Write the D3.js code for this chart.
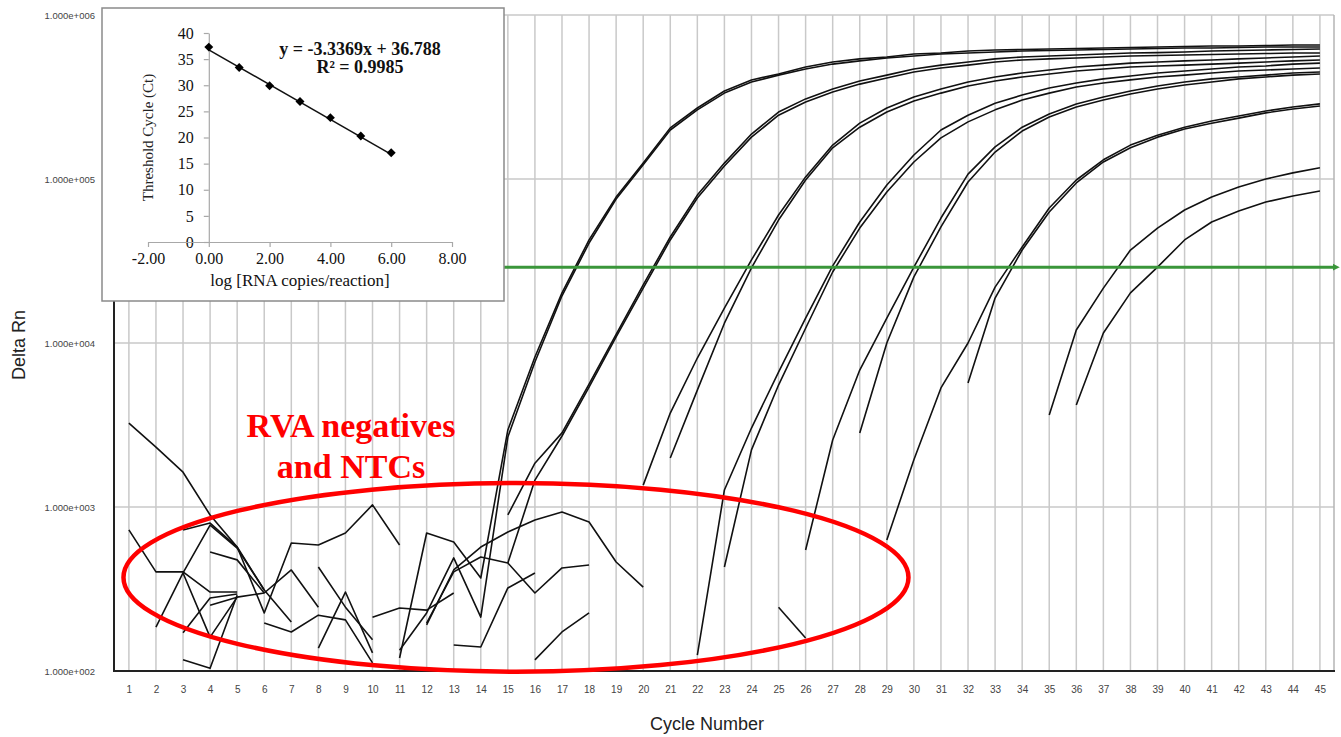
<!DOCTYPE html>
<html>
<head>
<meta charset="utf-8">
<script src="https://cdn.jsdelivr.net/npm/d3@7"></script>
<style>
  body { margin: 0; background: #fff; }
  svg { display: block; }
</style>
</head>
<body>
<svg id="chart" width="1341" height="737"></svg>
<script>
  // ---- main plot data (delta Rn per cycle, "from" = first cycle drawn) ----
const cycles = d3.range(1, 46);
const decades = [1e2, 1e3, 1e4, 1e5, 1e6];
const threshold = 29000;

const runA1 = {from: 11, rn: [120, 694, 612, 369, 2950, 8220, 20200, 42500, 77600, 125000, 205000, 271000, 344000, 402000, 437000, 482000, 517000, 540000, 555000, 578000, 586000, 603000, 612000, 616000, 621000, 625000, 629000, 634000, 638000, 642000, 647000, 647000, 651000, 656000, 656000]};
const runA2 = {from: 11, rn: [134, 226, 489, 213, 2670, 7660, 19400, 40700, 75500, 122000, 199000, 264000, 334000, 390000, 430000, 469000, 502000, 525000, 547000, 562000, 578000, 586000, 595000, 603000, 608000, 612000, 616000, 621000, 625000, 629000, 629000, 634000, 638000, 638000, 638000]};
const runB1 = {from: 15, rn: [894, 1850, 2830, 5620, 11300, 22600, 44300, 79800, 125000, 188000, 256000, 308000, 354000, 396000, 430000, 469000, 495000, 517000, 540000, 555000, 562000, 570000, 578000, 586000, 590000, 595000, 603000, 608000, 612000, 616000, 621000]};
const runB2 = {from: 15, rn: [456, 1460, 2710, 5390, 10900, 21600, 42500, 76600, 120000, 180000, 245000, 295000, 339000, 379000, 413000, 449000, 475000, 495000, 517000, 532000, 540000, 547000, 555000, 562000, 566000, 570000, 574000, 578000, 582000, 586000, 586000]};
const runC1 = {from: 20, rn: [1360, 3740, 8100, 16300, 32100, 60300, 103000, 161000, 219000, 271000, 316000, 354000, 390000, 419000, 443000, 462000, 482000, 495000, 509000, 517000, 525000, 532000, 540000, 547000, 555000, 562000]};
const runC2 = {from: 21, rn: [1990, 5160, 13200, 28700, 56200, 98600, 155000, 207000, 256000, 299000, 334000, 369000, 396000, 419000, 437000, 456000, 469000, 482000, 489000, 495000, 502000, 509000, 517000, 525000, 532000]};
const runD1 = {from: 22, rn: [125, 1270, 3030, 6650, 14200, 29500, 54700, 91900, 140000, 199000, 245000, 290000, 325000, 359000, 385000, 408000, 425000, 443000, 456000, 469000, 482000, 489000, 502000, 509000]};
const runD2 = {from: 23, rn: [431, 2230, 5540, 12300, 27100, 50200, 83400, 127000, 178000, 223000, 264000, 303000, 334000, 364000, 385000, 402000, 419000, 430000, 443000, 456000, 462000, 469000, 475000]};
const runE1 = {from: 26, rn: [547, 2560, 6840, 14200, 29000, 57800, 107000, 157000, 207000, 249000, 287000, 316000, 344000, 369000, 390000, 408000, 419000, 430000, 443000, 449000]};
const runE2 = {from: 28, rn: [2830, 10000, 25300, 51000, 95900, 146000, 196000, 239000, 275000, 303000, 330000, 354000, 374000, 390000, 408000, 419000, 430000, 437000]};
const runF1 = {from: 29, rn: [630, 1940, 5320, 10000, 21900, 38500, 66600, 98600, 131000, 161000, 185000, 207000, 226000, 242000, 260000, 275000, 287000]};
const runF2 = {from: 32, rn: [5700, 18800, 36900, 62900, 94600, 127000, 155000, 180000, 202000, 219000, 235000, 253000, 267000, 279000]};
const runG1 = {from: 35, rn: [3640, 12000, 21600, 36900, 50200, 64700, 77600, 89400, 100000, 109000, 117000]};
const runG2 = {from: 36, rn: [4190, 11500, 20200, 29000, 42500, 54700, 63800, 72400, 78800, 84500]};

  // negatives and NTCs (only the parts above 1e2 are drawn)
const neg1 = {from: 1, rn: [3250, 2320, 1630, 894, 570, 312, 199]};
const neg2 = {from: 1, rn: [725, 402, 402, 303, 303]};
const neg3 = {from: 3, rn: [725, 798, 570, 226, 603, 586, 694, 1030, 586]};
const neg4 = {from: 2, rn: [185, 396, 776, 562, 312]};
const neg5 = {from: 4, rn: [252, 282, 299, 413, 245]};
const neg6 = {from: 3, rn: [396, 161, 282]};
const neg7 = {from: 3, rn: [171, 279, 295]};
const neg8 = {from: 3, rn: [117, 104, 290]};
const neg9 = {from: 4, rn: [532, 476, 299]};
const neg10 = {from: 6, rn: [196, 173, 219, 205, 112]};
const neg11 = {from: 8, rn: [431, 245, 155]};
const neg12 = {from: 8, rn: [138, 303, 129]};
const neg13 = {from: 10, rn: [213, 242, 235, 299]};
const neg14 = {from: 12, rn: [191, 413, 570, 704, 834, 933, 810, 462, 325]};
const neg15 = {from: 12, rn: [196, 402, 496, 456, 299, 425, 443]};
const neg16 = {from: 13, rn: [144, 140, 321, 396]};
const neg17 = {from: 16, rn: [117, 173, 226]};
const neg18 = {from: 25, rn: [245, 159]};

const runs = [runA1, runA2, runB1, runB2, runC1, runC2, runD1, runD2,
  runE1, runE2, runF1, runF2, runG1, runG2,
  neg1, neg2, neg3, neg4, neg5, neg6, neg7, neg8, neg9, neg10,
  neg11, neg12, neg13, neg14, neg15, neg16, neg17, neg18];

  // ---- inset: standard curve ----
const logCopies = [0, 1, 2, 3, 4, 5, 6];
const ctValues = [37.3, 33.4, 29.9, 26.9, 23.8, 20.3, 17.1];
const ctTicks = [0, 5, 10, 15, 20, 25, 30, 35, 40];
const logTicks = [-2, 0, 2, 4, 6, 8];
const fitSlope = -3.3369;
const fitIntercept = 36.788;
const fitR2 = 0.9985;

const sans = "Arial, 'Liberation Sans', sans-serif";
const serif = "'Times New Roman', 'Liberation Serif', serif";

const svg = d3.select("#chart");
const x = d3.scaleLinear().domain([0.45, 45.52]).range([114, 1334]);
const y = d3.scaleLog().domain([100, 1e6]).range([671, 15]);

  // grid
const grid = svg.append("g").attr("class", "grid")
    .attr("stroke", "#c9c9c9").attr("stroke-width", 1.5);
grid.selectAll("line.v").data(cycles).join("line")
    .attr("class", "v")
    .attr("x1", d => x(d)).attr("x2", d => x(d))
    .attr("y1", y(1e6)).attr("y2", y(100));
grid.selectAll("line.h").data(decades.slice(1)).join("line")
    .attr("class", "h")
    .attr("x1", x.range()[0]).attr("x2", x.range()[1])
    .attr("y1", d => y(d)).attr("y2", d => y(d));
grid.append("line")
    .attr("x1", x.range()[1]).attr("x2", x.range()[1])
    .attr("y1", y(1e6)).attr("y2", y(100))
    .attr("stroke", "#b5b5b5");

  // axes
const sciLabel = v => "1.000e+" + String(Math.round(Math.log10(v))).padStart(3, "0");
const yAxis = svg.append("g")
    .attr("transform", "translate(" + x.range()[0] + ",0)")
    .call(d3.axisLeft(y).tickValues(decades).tickFormat(sciLabel).tickSize(0).tickPadding(19));
yAxis.select(".domain").remove();
yAxis.selectAll("text").style("font", "9.5px " + sans).attr("fill", "#444");

const xAxis = svg.append("g")
    .attr("transform", "translate(0," + y(100) + ")")
    .call(d3.axisBottom(x).tickValues(cycles).tickSize(0).tickPadding(15));
xAxis.select(".domain").remove();
xAxis.selectAll("text").style("font", "10px " + sans).attr("fill", "#444");

svg.append("path")
    .attr("d", "M" + x.range()[0] + "," + y(1e6) + "V" + y(100) + "H" + (x.range()[1] + 1))
    .attr("fill", "none").attr("stroke", "#222").attr("stroke-width", 2);

svg.append("text")
    .attr("transform", "translate(25," + (y(10000) + 2) + ") rotate(-90)")
    .attr("text-anchor", "middle")
    .style("font", "18px " + sans).attr("fill", "#222")
    .text("Delta Rn");
svg.append("text")
    .attr("x", 707).attr("y", 730)
    .attr("text-anchor", "middle")
    .style("font", "18px " + sans).attr("fill", "#222")
    .text("Cycle Number");

  // amplification curves
svg.append("clipPath").attr("id", "plotClip")
  .append("rect")
    .attr("x", x.range()[0]).attr("y", y(1e6))
    .attr("width", x.range()[1] - x.range()[0]).attr("height", y(100) - y(1e6));

const line = d3.line().x(d => x(d.c)).y(d => y(d.v));
svg.append("g").attr("clip-path", "url(#plotClip)")
  .selectAll("path").data(runs).join("path")
    .attr("d", r => line(r.rn.map((v, i) => ({c: r.from + i, v: v}))))
    .attr("fill", "none").attr("stroke", "#111").attr("stroke-width", 1.6)
    .attr("stroke-linejoin", "round");

  // threshold
svg.append("defs").append("marker")
    .attr("id", "arrow").attr("viewBox", "0 0 10 10")
    .attr("refX", 2).attr("refY", 5)
    .attr("markerWidth", 2.4).attr("markerHeight", 2.4)
    .attr("orient", "auto")
  .append("path").attr("d", "M0,0L10,5L0,10z").attr("fill", "#3a963a");
svg.append("line")
    .attr("x1", x.range()[0]).attr("x2", x.range()[1])
    .attr("y1", y(threshold)).attr("y2", y(threshold))
    .attr("stroke", "#3a963a").attr("stroke-width", 3)
    .attr("marker-end", "url(#arrow)");

  // annotation round the negatives
const ringCycles = [0.8, 29.8];
const ringRn = [99, 1400];
svg.append("ellipse")
    .attr("cx", (x(ringCycles[0]) + x(ringCycles[1])) / 2)
    .attr("cy", (y(ringRn[0]) + y(ringRn[1])) / 2)
    .attr("rx", (x(ringCycles[1]) - x(ringCycles[0])) / 2)
    .attr("ry", (y(ringRn[0]) - y(ringRn[1])) / 2)
    .attr("fill", "none").attr("stroke", "#f00").attr("stroke-width", 4.5);
const note = svg.append("text")
    .attr("text-anchor", "middle")
    .style("font", "bold 34px " + serif).attr("fill", "#f00");
note.append("tspan").attr("x", 351).attr("y", 437).text("RVA negatives");
note.append("tspan").attr("x", 351).attr("y", 478).text("and NTCs");

  // ---- inset ----
const inset = svg.append("g").attr("class", "inset");
inset.append("rect")
    .attr("x", 102).attr("y", 8).attr("width", 402).attr("height", 293)
    .attr("fill", "#fff").attr("stroke", "#8a8a8a").attr("stroke-width", 1.5);

const ix = d3.scaleLinear().domain([-2, 8]).range([148, 452]);
const iy = d3.scaleLinear().domain([0, 40]).range([242, 33]);

const iyAxis = inset.append("g")
    .attr("transform", "translate(" + ix(0) + ",0)")
    .call(d3.axisLeft(iy).tickValues(ctTicks).tickSize(5).tickSizeOuter(0).tickPadding(10));
const ixAxis = inset.append("g")
    .attr("transform", "translate(0," + iy(0) + ")")
    .call(d3.axisBottom(ix).tickValues(logTicks).tickFormat(d => d.toFixed(2))
      .tickSize(5).tickSizeOuter(0).tickPadding(6));
[iyAxis, ixAxis].forEach(a => {
  a.selectAll(".domain, line").attr("stroke", "#a8a8a8").attr("stroke-width", 1.2);
  a.selectAll("text").style("font", "16px " + serif).attr("fill", "#111");
});

inset.append("line")
    .attr("x1", ix(logCopies[0])).attr("y1", iy(fitSlope * logCopies[0] + fitIntercept))
    .attr("x2", ix(logCopies[6])).attr("y2", iy(fitSlope * logCopies[6] + fitIntercept))
    .attr("stroke", "#111").attr("stroke-width", 1.5);

inset.selectAll("path.pt").data(logCopies).join("path")
    .attr("class", "pt")
    .attr("d", d3.symbol(d3.symbolSquare, 40))
    .attr("transform", (d, i) => "translate(" + ix(d) + "," + iy(ctValues[i]) + ") rotate(45)")
    .attr("fill", "#000");

inset.append("text")
    .attr("x", 360).attr("y", 55).attr("text-anchor", "middle")
    .style("font", "bold 18px " + serif).attr("fill", "#111")
    .text("y = " + fitSlope + "x + " + fitIntercept);
inset.append("text")
    .attr("x", 360).attr("y", 73).attr("text-anchor", "middle")
    .style("font", "bold 18px " + serif).attr("fill", "#111")
    .text("R² = " + fitR2);

inset.append("text")
    .attr("transform", "translate(153," + iy(20) + ") rotate(-90)")
    .attr("text-anchor", "middle")
    .style("font", "15px " + serif).attr("fill", "#222")
    .text("Threshold Cycle (Ct)");
inset.append("text")
    .attr("x", ix(3)).attr("y", 286).attr("text-anchor", "middle")
    .style("font", "17px " + serif).attr("fill", "#111")
    .text("log [RNA copies/reaction]");
</script>
</body>
</html>
